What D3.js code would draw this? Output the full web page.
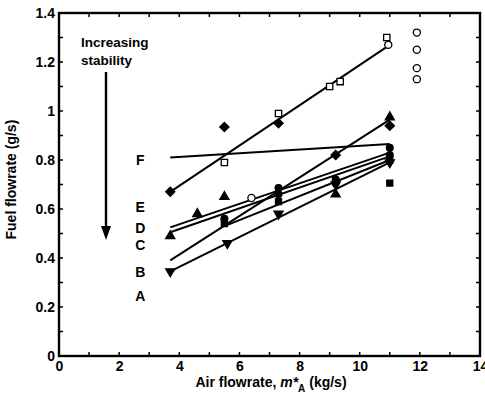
<!DOCTYPE html>
<html>
<head>
<meta charset="utf-8">
<script src="https://cdn.jsdelivr.net/npm/d3@7"></script>
<style>
  body { margin: 0; background: #fff; }
  text { font-family: "Liberation Sans", Arial, sans-serif; font-weight: bold; }
</style>
</head>
<body>
<div id="chart"></div>
<script>
// axis ticks
const xTicks = [0, 2, 4, 6, 8, 10, 12, 14];
const yTicks = [0, 0.2, 0.4, 0.6, 0.8, 1, 1.2, 1.4];

// fitted lines: [x0, y0, x1, y1]
const fitTop = [3.7, 0.67, 11, 1.27];
const fitF = [3.7, 0.81, 11, 0.865];
const fitE = [3.7, 0.525, 11, 0.83];
const fitD = [3.7, 0.505, 11, 0.815];
const fitC = [3.7, 0.39, 11, 0.965];
const fitG = [5.5, 0.53, 11, 0.80];
const fitB = [3.7, 0.345, 11, 0.79];

// measured points per marker type
const openSquare = [[5.5, 0.79], [7.3, 0.99], [9.0, 1.10], [9.35, 1.12], [10.9, 1.30]];
const filledDiamond = [[3.7, 0.67], [5.5, 0.935], [7.3, 0.95], [9.2, 0.82], [11, 0.94]];
const openCircle = [[6.4, 0.645], [10.95, 1.27], [11.9, 1.32], [11.9, 1.25], [11.9, 1.175], [11.9, 1.13]];
const triUp = [[3.7, 0.49], [4.6, 0.58], [5.5, 0.65], [9.2, 0.66], [11, 0.975]];
const triDown = [[3.7, 0.345], [5.6, 0.46], [7.3, 0.58], [9.2, 0.70], [11, 0.79]];
const filledSquare = [[5.5, 0.54], [7.3, 0.63], [9.2, 0.71], [11, 0.706], [11, 0.80]];
const filledCircle = [[5.5, 0.56], [7.3, 0.66], [7.3, 0.686], [9.2, 0.72], [11, 0.85], [11, 0.82]];

// curve labels
const labelNames = ["F", "E", "D", "C", "B", "A"];
const labelY = [0.80, 0.61, 0.522, 0.455, 0.343, 0.245];
const labelX = 2.7;

const w = 485, h = 397;
const svg = d3.select("#chart").append("svg")
    .attr("width", w)
    .attr("height", h);

const x = d3.scaleLinear().domain([0, 14]).range([59, 480]);
const y = d3.scaleLinear().domain([0, 1.4]).range([356, 13]);

// frame
svg.append("rect")
    .attr("x", x(0)).attr("y", y(1.4))
    .attr("width", x(14) - x(0)).attr("height", y(0) - y(1.4))
    .attr("fill", "none").attr("stroke", "#000").attr("stroke-width", 2.4);

// minor ticks, inward on all sides
const xMinor = d3.range(0, 15, 1);
const yMinor = d3.range(0, 1.41, 0.1);
const tickG = svg.append("g").attr("stroke", "#000").attr("stroke-width", 1.5);
xMinor.forEach(v => {
  tickG.append("line").attr("x1", x(v)).attr("x2", x(v)).attr("y1", y(0)).attr("y2", y(0) - 4);
  tickG.append("line").attr("x1", x(v)).attr("x2", x(v)).attr("y1", y(1.4)).attr("y2", y(1.4) + 4);
});
yMinor.forEach(v => {
  tickG.append("line").attr("x1", x(0)).attr("x2", x(0) + 4).attr("y1", y(v)).attr("y2", y(v));
  tickG.append("line").attr("x1", x(14)).attr("x2", x(14) - 4).attr("y1", y(v)).attr("y2", y(v));
});

// tick labels through d3 axes (no domain, no tick lines)
const xAxis = d3.axisBottom(x).tickValues(xTicks).tickSize(0).tickPadding(5).tickFormat(d3.format("d"));
const yAxis = d3.axisLeft(y).tickValues(yTicks).tickSize(0).tickPadding(4).tickFormat(d => d3.format("~g")(d));

svg.append("g").attr("transform", "translate(0," + y(0) + ")").call(xAxis)
    .call(g => g.select(".domain").remove())
    .selectAll("text").attr("font-size", 14).attr("font-weight", "bold").attr("fill", "#000")
    .attr("font-family", "Liberation Sans, Arial, sans-serif");
svg.append("g").attr("transform", "translate(" + x(0) + ",0)").call(yAxis)
    .call(g => g.select(".domain").remove())
    .selectAll("text").attr("font-size", 14).attr("font-weight", "bold").attr("fill", "#000")
    .attr("font-family", "Liberation Sans, Arial, sans-serif");

// axis titles
svg.append("text")
    .attr("transform", "translate(16," + y(0.72) + ") rotate(-90)")
    .attr("text-anchor", "middle")
    .attr("font-size", 14)
    .text("Fuel flowrate (g/s)");

const xt = svg.append("text")
    .attr("x", x(7.05)).attr("y", 387)
    .attr("text-anchor", "middle")
    .attr("font-size", 14);
xt.append("tspan").text("Air flowrate, ");
xt.append("tspan").attr("font-style", "italic").text("m*");
xt.append("tspan").attr("font-size", 10).attr("dy", 5).text("A");
xt.append("tspan").attr("dy", -5).text(" (kg/s)");

// fitted lines
const fits = [fitTop, fitF, fitE, fitD, fitC, fitG, fitB];
svg.append("g").selectAll("line").data(fits).join("line")
    .attr("x1", d => x(d[0])).attr("y1", d => y(d[1]))
    .attr("x2", d => x(d[2])).attr("y2", d => y(d[3]))
    .attr("stroke", "#000").attr("stroke-width", 2);

// markers
function drawPoints(data, type, filled) {
  const shape = type === "square" ? d3.symbolSquare :
      type === "diamond" ? d3.symbolSquare :
      type === "circle" ? d3.symbolCircle : d3.symbolTriangle;
  const rot = type === "down" ? " rotate(180)" : type === "diamond" ? " rotate(45)" : "";
  svg.append("g").selectAll("path").data(data).join("path")
      .attr("transform", d => "translate(" + x(d[0]) + "," + y(d[1]) + ")" + rot)
      .attr("d", d3.symbol().type(shape).size(type === "diamond" ? 42 : filled ? 36 : 40))
      .attr("fill", filled ? "#000" : "#fff")
      .attr("stroke", "#000")
      .attr("stroke-width", 1.3);
}
drawPoints(filledDiamond, "diamond", true);
drawPoints(triUp, "up", true);
drawPoints(triDown, "down", true);
drawPoints(filledSquare, "square", true);
drawPoints(filledCircle, "circle", true);
drawPoints(openSquare, "square", false);
drawPoints(openCircle, "circle", false);

// curve letters
svg.append("g").selectAll("text").data(labelNames).join("text")
    .attr("x", x(labelX)).attr("y", (d, i) => y(labelY[i]))
    .attr("dy", "0.36em")
    .attr("text-anchor", "middle")
    .attr("font-size", 14)
    .text(d => d);

// annotation
svg.append("text").attr("x", 81).attr("y", 47).attr("font-size", 13.5)
    .attr("font-family", "Open Sans, sans-serif").text("Increasing");
svg.append("text").attr("x", 81).attr("y", 65).attr("font-size", 13.5)
    .attr("font-family", "Open Sans, sans-serif").text("stability");
svg.append("line").attr("x1", 106).attr("x2", 106).attr("y1", 72).attr("y2", 228)
    .attr("stroke", "#000").attr("stroke-width", 2.4);
svg.append("path").attr("d", "M101,226 L111,226 L106,240 Z").attr("fill", "#000");
</script>
</body>
</html>
